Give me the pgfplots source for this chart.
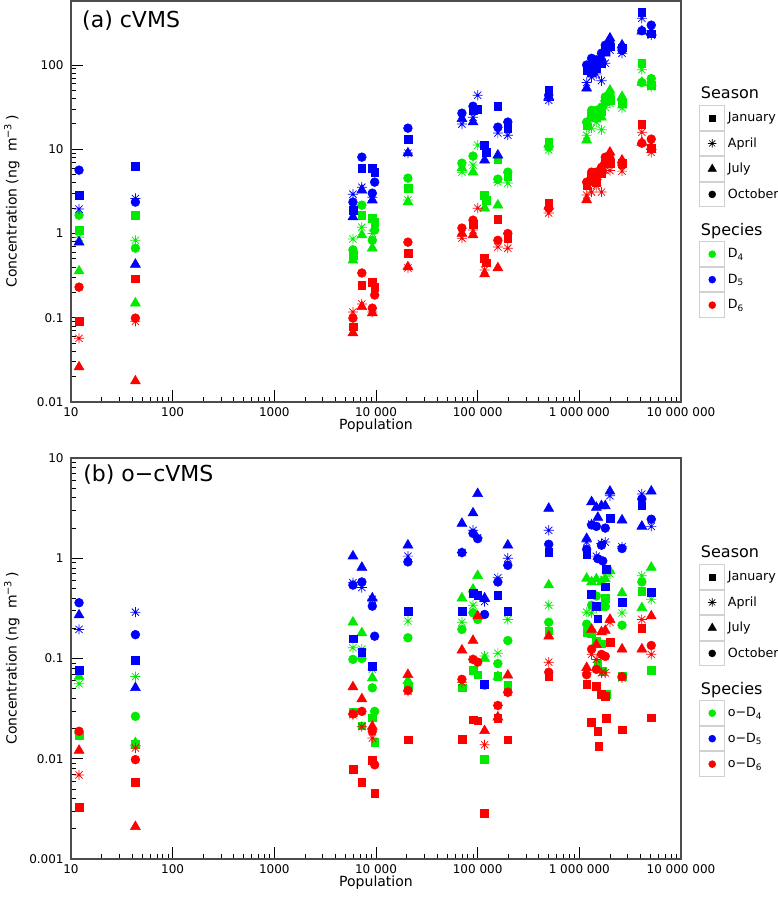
\documentclass[border=0pt]{standalone}
\usepackage{fontspec}
\setmainfont{DejaVu Sans}
\usepackage{pgfplots}
\pgfplotsset{compat=1.18}
\definecolor{cG}{RGB}{0,235,0}
\definecolor{cB}{RGB}{0,0,255}
\definecolor{cR}{RGB}{255,0,0}
\pgfdeclareplotmark{ast8}{%
  \pgfpathmoveto{\pgfqpoint{-\pgfplotmarksize}{0pt}}\pgfpathlineto{\pgfqpoint{\pgfplotmarksize}{0pt}}%
  \pgfpathmoveto{\pgfqpoint{0pt}{-\pgfplotmarksize}}\pgfpathlineto{\pgfqpoint{0pt}{\pgfplotmarksize}}%
  \pgfpathmoveto{\pgfqpoint{-0.707\pgfplotmarksize}{-0.707\pgfplotmarksize}}\pgfpathlineto{\pgfqpoint{0.707\pgfplotmarksize}{0.707\pgfplotmarksize}}%
  \pgfpathmoveto{\pgfqpoint{-0.707\pgfplotmarksize}{0.707\pgfplotmarksize}}\pgfpathlineto{\pgfqpoint{0.707\pgfplotmarksize}{-0.707\pgfplotmarksize}}%
  \pgfusepathqstroke}
\pgfplotsset{
  mkJan/.style={only marks, mark=square*, mark size=2.9pt, forget plot},
  mkApr/.style={only marks, mark=ast8, mark size=3.8pt, mark options={line width=0.55pt}, forget plot},
  mkJul/.style={only marks, mark=triangle*, mark size=4.3pt, forget plot},
  mkOct/.style={only marks, mark=*, mark size=3.3pt, forget plot},
}
\newcommand{\cellbox}{\draw[black!18, fill=white, line width=0.7pt] (0pt,-9.2pt) rectangle (18.75pt,9.2pt);}
\begin{document}
\begin{tikzpicture}
\useasboundingbox (-53.25pt,-373.5pt) rectangle (530.25pt,301.5pt);
% ---------------- (a) cVMS ----------------
\begin{axis}[
    scale only axis, width=457.5pt, height=300.75pt,
    xmode=log, ymode=log, xmin=10, xmax=1e7,
    xtick={10,100,1000,10000,100000,1000000,10000000},
    xticklabels={10,100,1000,10 000,100 000,1 000 000,10 000 000},
    tick align=inside, tick pos=left,
    major tick length=9pt, minor tick length=3.75pt,
    tick style={black, line width=0.6pt},
    axis line style={black!70, line width=0.8pt},
    ticklabel style={font=\fontsize{9}{10}\selectfont},
    xticklabel style={yshift=-1pt},
    yticklabel style={xshift=-2pt},
    xlabel={Population},
    xlabel style={at={(axis description cs:0.5,0)}, anchor=center, yshift=-18pt, font=\fontsize{10.5}{12}\selectfont},
    ylabel={Concentration (ng\ \ m\textsuperscript{−3}\,)},
    ylabel style={at={(axis description cs:-0.097,0.5)}, anchor=center, font=\fontsize{10.5}{12}\selectfont},
    legend cell align=left,
    legend style={draw=none, fill=none, at={(1.0295,0.8005)}, anchor=north west, row sep=0pt, column sep=0pt, inner sep=0pt, font=\fontsize{9.5}{11}\selectfont},
    at={(0pt,0pt)}, anchor=south west,
    ymin=0.01, ymax=575,
    ytick={0.01,0.1,1,10,100}, yticklabels={0.01,0.1,1,10,100}]
% D4
\addplot[mkJan, color=cG] coordinates {(12,1.1) (43,1.65) (5930,0.55) (7260,1.65) (9200,1.52) (9700,1.36) (20600,3.46) (117000,2.86) (121000,2.5) (158000,7.6) (198000,4.7) (500000,12.1) (1180000,19) (1320000,25) (1470000,24) (1650000,28) (1800000,37) (2000000,38) (2630000,35) (4120000,105) (5100000,58)};
\addplot[mkApr, color=cG] coordinates {(12,0.9) (43,0.83) (5930,0.86) (7260,1.19) (9200,1.0) (20600,2.5) (70000,5.35) (90000,6.5) (100000,11.2) (158000,4.07) (198000,3.97) (500000,9.8) (1180000,14.7) (1320000,17.8) (1470000,21) (1650000,17) (1800000,31.5) (2000000,35) (2630000,30.8) (4120000,88) (5100000,55)};
\addplot[mkJul, color=cG] coordinates {(12,0.358) (43,0.149) (5930,0.48) (7260,0.96) (9200,0.67) (20600,2.36) (70000,6.0) (90000,5.35) (117000,2.0) (158000,2.17) (500000,11.5) (1180000,12.8) (1320000,23) (1470000,26) (1650000,24) (1800000,40) (2000000,50) (2630000,42) (4120000,62) (5100000,61)};
\addplot[mkOct, color=cG] coordinates {(12,1.65) (43,0.67) (5930,0.64) (7260,2.17) (9200,0.83) (9700,1.1) (20600,4.54) (70000,6.84) (90000,8.3) (158000,4.42) (198000,5.35) (500000,10.7) (1180000,21) (1320000,29) (1470000,29) (1650000,31.5) (1800000,41.8) (2000000,44) (2630000,38) (4120000,62) (5100000,69)};
% D5
\addplot[mkJan, color=cB] coordinates {(12,2.86) (43,6.3) (5930,1.9) (7260,5.97) (9200,5.97) (9700,5.35) (20600,13.2) (90000,29) (100000,30) (117000,11.2) (121000,9.2) (158000,32.4) (198000,17.8) (500000,50) (1180000,87) (1320000,82) (1470000,90) (1650000,105) (1800000,150) (2000000,165) (2630000,160) (4120000,423) (5100000,235)};
\addplot[mkApr, color=cB] coordinates {(12,1.95) (43,2.6) (5930,2.93) (7260,3.55) (9200,2.7) (20600,9.0) (70000,19.9) (90000,24) (100000,43.8) (158000,15.6) (198000,14.7) (500000,38) (1180000,62) (1320000,72) (1470000,78) (1650000,65) (1800000,105) (2000000,150) (2630000,138) (4120000,359) (5100000,226)};
\addplot[mkJul, color=cB] coordinates {(12,0.79) (43,0.43) (5930,1.57) (7260,3.27) (9200,2.49) (20600,9.0) (70000,23) (90000,21) (117000,7.4) (158000,8.5) (500000,42) (1180000,53) (1320000,95) (1470000,105) (1650000,120) (1800000,138) (2000000,208) (2630000,172) (4120000,252) (5100000,245)};
\addplot[mkOct, color=cB] coordinates {(12,5.65) (43,2.36) (5930,2.36) (7260,8.06) (9200,3.01) (9700,4.07) (20600,17.8) (70000,26.8) (90000,32.4) (158000,18.3) (198000,21) (500000,43.8) (1180000,100) (1320000,120) (1470000,115) (1650000,138) (1800000,172) (2000000,180) (2630000,150) (4120000,255) (5100000,297)};
% D6
\addplot[mkJan, color=cR] coordinates {(12,0.091) (43,0.29) (5930,0.078) (7260,0.244) (9200,0.265) (9700,0.231) (20600,0.585) (90000,1.3) (117000,0.51) (121000,0.45) (158000,1.48) (198000,0.88) (500000,2.3) (1180000,3.7) (1320000,4.7) (1470000,4.07) (1650000,5.2) (1800000,6.8) (2000000,6.8) (2630000,6.8) (4120000,19.9) (5100000,10.2)};
\addplot[mkApr, color=cR] coordinates {(12,0.057) (43,0.091) (5930,0.117) (7260,0.146) (9200,0.117) (20600,0.39) (70000,0.88) (90000,1.1) (100000,2.0) (117000,0.37) (158000,0.69) (198000,0.67) (500000,1.75) (1180000,2.86) (1320000,3.1) (1470000,3.7) (1650000,3.1) (1800000,5.6) (2000000,5.6) (2630000,5.5) (4120000,15.9) (5100000,9.2)};
\addplot[mkJul, color=cR] coordinates {(12,0.026) (43,0.0177) (5930,0.066) (7260,0.135) (9200,0.114) (20600,0.4) (70000,1.0) (90000,0.96) (117000,0.33) (158000,0.39) (500000,2.1) (1180000,2.5) (1320000,4.0) (1470000,4.7) (1650000,5.7) (1800000,7.4) (2000000,9.2) (2630000,7.4) (4120000,12) (5100000,10.7)};
\addplot[mkOct, color=cR] coordinates {(12,0.231) (43,0.099) (5930,0.099) (7260,0.34) (9200,0.13) (9700,0.186) (20600,0.79) (70000,1.16) (90000,1.44) (158000,0.83) (198000,1.0) (500000,2.0) (1180000,4.07) (1320000,5.35) (1470000,5.35) (1650000,6.1) (1800000,8.06) (2000000,7.8) (2630000,6.5) (4120000,11.8) (5100000,13.2)};
% legend
\addlegendimage{legend image code/.code={\path[draw=none, fill=none] (0pt,-9pt) rectangle (18.75pt,9pt); \node[overlay, draw=none, fill=none, anchor=west, inner sep=0pt, font=\fontsize{12}{14}\selectfont] at (0.75pt,0pt) {Season};}}\addlegendentry{\mbox{}}
\addlegendimage{legend image code/.code={\cellbox \draw[mark=square*, mark size=2.3pt, black] plot coordinates {(9.375pt,0pt)};}}\addlegendentry{January}
\addlegendimage{legend image code/.code={\cellbox \draw[mark=ast8, mark size=3.2pt, black, line width=0.5pt] plot coordinates {(9.375pt,0pt)};}}\addlegendentry{April}
\addlegendimage{legend image code/.code={\cellbox \draw[mark=triangle*, mark size=3.6pt, black] plot coordinates {(9.375pt,0pt)};}}\addlegendentry{July}
\addlegendimage{legend image code/.code={\cellbox \draw[mark=*, mark size=2.6pt, black] plot coordinates {(9.375pt,0pt)};}}\addlegendentry{October}
\addlegendimage{legend image code/.code={\path[draw=none, fill=none] (0pt,-8.25pt) rectangle (18.75pt,17.5pt); \node[overlay, draw=none, fill=none, anchor=west, inner sep=0pt, font=\fontsize{12}{14}\selectfont] at (0.75pt,0pt) {Species};}}\addlegendentry{\mbox{}}
\addlegendimage{legend image code/.code={\cellbox \draw[mark=*, mark size=2.6pt, cG] plot coordinates {(9.375pt,0pt)};}}\addlegendentry{D\textsubscript{4}}
\addlegendimage{legend image code/.code={\cellbox \draw[mark=*, mark size=2.6pt, cB] plot coordinates {(9.375pt,0pt)};}}\addlegendentry{D\textsubscript{5}}
\addlegendimage{legend image code/.code={\cellbox \draw[mark=*, mark size=2.6pt, cR] plot coordinates {(9.375pt,0pt)};}}\addlegendentry{D\textsubscript{6}}
\node[anchor=west, inner sep=0pt, font=\fontsize{16.5}{19}\selectfont] at (rel axis cs:0.018,0.95) {(a) cVMS};
\end{axis}
% ---------------- (b) o-cVMS ----------------
\begin{axis}[
    scale only axis, width=457.5pt, height=300.75pt,
    xmode=log, ymode=log, xmin=10, xmax=1e7,
    xtick={10,100,1000,10000,100000,1000000,10000000},
    xticklabels={10,100,1000,10 000,100 000,1 000 000,10 000 000},
    tick align=inside, tick pos=left,
    major tick length=9pt, minor tick length=3.75pt,
    tick style={black, line width=0.6pt},
    axis line style={black!70, line width=0.8pt},
    ticklabel style={font=\fontsize{9}{10}\selectfont},
    xticklabel style={yshift=-1pt},
    yticklabel style={xshift=-2pt},
    xlabel={Population},
    xlabel style={at={(axis description cs:0.5,0)}, anchor=center, yshift=-18pt, font=\fontsize{10.5}{12}\selectfont},
    ylabel={Concentration (ng\ \ m\textsuperscript{−3}\,)},
    ylabel style={at={(axis description cs:-0.097,0.5)}, anchor=center, font=\fontsize{10.5}{12}\selectfont},
    legend cell align=left,
    legend style={draw=none, fill=none, at={(1.0295,0.7955)}, anchor=north west, row sep=0pt, column sep=0pt, inner sep=0pt, font=\fontsize{9.5}{11}\selectfont},
    at={(0pt,-342.75pt)}, anchor=south west,
    ymin=0.001, ymax=10,
    ytick={0.001,0.01,0.1,1,10}, yticklabels={0.001,0.01,0.1,1,10}]
% o-D4
\addplot[mkJan, color=cG] coordinates {(12,0.017) (43,0.014) (5930,0.029) (7260,0.0214) (9200,0.0256) (9700,0.0147) (20600,0.053) (70000,0.051) (90000,0.076) (100000,0.069) (117000,0.0099) (158000,0.066) (198000,0.054) (500000,0.189) (1180000,0.184) (1320000,0.18) (1470000,0.15) (1520000,0.087) (1650000,0.14) (1700000,0.075) (1800000,0.4) (1850000,0.044) (2630000,0.066) (4120000,0.47) (5100000,0.076)};
\addplot[mkApr, color=cG] coordinates {(12,0.056) (43,0.066) (5930,0.128) (7260,0.124) (9200,0.078) (20600,0.236) (70000,0.23) (90000,0.34) (117000,0.106) (158000,0.113) (198000,0.245) (500000,0.34) (1180000,0.29) (1320000,0.285) (1470000,0.32) (1800000,0.66) (2000000,0.7) (2630000,0.285) (4120000,0.67) (5100000,0.39)};
\addplot[mkJul, color=cG] coordinates {(12,0.066) (43,0.0144) (5930,0.23) (7260,0.18) (9200,0.064) (20600,0.06) (70000,0.40) (90000,0.49) (100000,0.67) (117000,0.1) (158000,0.066) (500000,0.54) (1180000,0.63) (1320000,0.58) (1470000,0.62) (1650000,0.58) (1800000,0.62) (2000000,0.75) (2630000,0.45) (4120000,0.32) (5100000,0.81)};
\addplot[mkOct, color=cG] coordinates {(12,0.018) (43,0.0265) (5930,0.098) (7260,0.1) (9200,0.051) (9700,0.0297) (20600,0.161) (70000,0.195) (90000,0.286) (100000,0.245) (117000,0.054) (158000,0.089) (198000,0.151) (500000,0.23) (1180000,0.22) (1320000,0.34) (1470000,0.42) (1650000,0.33) (1800000,0.33) (2630000,0.215) (4120000,0.58)};
% o-D5
\addplot[mkJan, color=cB] coordinates {(12,0.0764) (43,0.096) (5930,0.157) (7260,0.116) (9200,0.084) (20600,0.297) (70000,0.297) (90000,0.45) (100000,0.43) (117000,0.055) (158000,0.43) (198000,0.297) (500000,1.14) (1180000,1.1) (1320000,0.44) (1470000,0.33) (1520000,0.249) (1800000,0.52) (1850000,0.78) (2000000,2.51) (2630000,0.366) (4120000,3.33) (5100000,0.46)};
\addplot[mkApr, color=cB] coordinates {(12,0.195) (43,0.29) (5930,0.57) (7260,0.51) (9200,0.39) (20600,1.05) (70000,1.14) (90000,1.9) (100000,1.6) (117000,0.37) (158000,0.64) (198000,1.0) (500000,1.9) (1180000,1.45) (1320000,2.2) (1470000,1.05) (1650000,1.4) (1800000,1.45) (2000000,4.2) (2630000,1.3) (4120000,4.37) (5100000,2.08)};
\addplot[mkJul, color=cB] coordinates {(12,0.271) (43,0.051) (5930,1.05) (7260,0.81) (9200,0.40) (20600,1.35) (70000,2.22) (90000,2.82) (100000,4.4) (117000,0.40) (198000,1.35) (500000,3.14) (1180000,1.57) (1320000,3.65) (1470000,3.21) (1520000,2.55) (1650000,3.33) (1800000,3.33) (2000000,4.65) (2630000,2.4) (4120000,2.08) (5100000,4.66)};
\addplot[mkOct, color=cB] coordinates {(12,0.36) (43,0.173) (5930,0.54) (7260,0.58) (9200,0.333) (9700,0.167) (20600,0.92) (70000,1.14) (90000,1.77) (100000,1.57) (117000,0.275) (158000,0.58) (198000,0.85) (500000,1.38) (1180000,1.23) (1320000,2.15) (1470000,2.08) (1520000,0.99) (1650000,1.35) (1700000,0.94) (1800000,2.0) (2630000,1.25) (4120000,3.9) (5100000,2.45)};
% o-D6
\addplot[mkJan, color=cR] coordinates {(12,0.00326) (43,0.00585) (5930,0.0079) (7260,0.0058) (9200,0.0096) (9700,0.0045) (20600,0.0155) (70000,0.0157) (90000,0.0245) (100000,0.024) (117000,0.00286) (158000,0.0255) (198000,0.0155) (500000,0.066) (1180000,0.055) (1320000,0.0232) (1470000,0.053) (1520000,0.0187) (1550000,0.0134) (1650000,0.044) (1800000,0.042) (1850000,0.0255) (2000000,0.145) (2630000,0.0195) (4120000,0.2) (5100000,0.0256)};
\addplot[mkApr, color=cR] coordinates {(12,0.0069) (43,0.0128) (5930,0.0275) (7260,0.0209) (9200,0.0161) (20600,0.047) (70000,0.058) (90000,0.098) (117000,0.0138) (158000,0.034) (198000,0.046) (500000,0.092) (1180000,0.072) (1320000,0.11) (1470000,0.098) (1650000,0.072) (1800000,0.072) (2000000,0.23) (2630000,0.064) (4120000,0.245) (5100000,0.11)};
\addplot[mkJul, color=cR] coordinates {(12,0.0121) (43,0.0021) (5930,0.052) (7260,0.0395) (9200,0.021) (20600,0.069) (70000,0.121) (90000,0.151) (100000,0.265) (117000,0.019) (158000,0.026) (198000,0.068) (500000,0.167) (1180000,0.081) (1320000,0.195) (1470000,0.137) (1650000,0.184) (1800000,0.19) (2000000,0.245) (2630000,0.124) (4120000,0.124) (5100000,0.265)};
\addplot[mkOct, color=cR] coordinates {(12,0.0188) (43,0.0098) (5930,0.028) (7260,0.0297) (9200,0.0188) (9700,0.0087) (20600,0.048) (70000,0.062) (90000,0.098) (100000,0.092) (158000,0.034) (198000,0.046) (500000,0.073) (1180000,0.069) (1320000,0.124) (1470000,0.078) (1650000,0.11) (1800000,0.105) (2630000,0.066) (5100000,0.135)};
% legend
\addlegendimage{legend image code/.code={\path[draw=none, fill=none] (0pt,-9pt) rectangle (18.75pt,9pt); \node[overlay, draw=none, fill=none, anchor=west, inner sep=0pt, font=\fontsize{12}{14}\selectfont] at (0.75pt,0pt) {Season};}}\addlegendentry{\mbox{}}
\addlegendimage{legend image code/.code={\cellbox \draw[mark=square*, mark size=2.3pt, black] plot coordinates {(9.375pt,0pt)};}}\addlegendentry{January}
\addlegendimage{legend image code/.code={\cellbox \draw[mark=ast8, mark size=3.2pt, black, line width=0.5pt] plot coordinates {(9.375pt,0pt)};}}\addlegendentry{April}
\addlegendimage{legend image code/.code={\cellbox \draw[mark=triangle*, mark size=3.6pt, black] plot coordinates {(9.375pt,0pt)};}}\addlegendentry{July}
\addlegendimage{legend image code/.code={\cellbox \draw[mark=*, mark size=2.6pt, black] plot coordinates {(9.375pt,0pt)};}}\addlegendentry{October}
\addlegendimage{legend image code/.code={\path[draw=none, fill=none] (0pt,-8.25pt) rectangle (18.75pt,17.5pt); \node[overlay, draw=none, fill=none, anchor=west, inner sep=0pt, font=\fontsize{12}{14}\selectfont] at (0.75pt,0pt) {Species};}}\addlegendentry{\mbox{}}
\addlegendimage{legend image code/.code={\cellbox \draw[mark=*, mark size=2.6pt, cG] plot coordinates {(9.375pt,0pt)};}}\addlegendentry{o−D\textsubscript{4}}
\addlegendimage{legend image code/.code={\cellbox \draw[mark=*, mark size=2.6pt, cB] plot coordinates {(9.375pt,0pt)};}}\addlegendentry{o−D\textsubscript{5}}
\addlegendimage{legend image code/.code={\cellbox \draw[mark=*, mark size=2.6pt, cR] plot coordinates {(9.375pt,0pt)};}}\addlegendentry{o−D\textsubscript{6}}
\node[anchor=west, inner sep=0pt, font=\fontsize{16.5}{19}\selectfont] at (rel axis cs:0.0197,0.958) {(b) o−cVMS};
\end{axis}
\end{tikzpicture}
\end{document}
